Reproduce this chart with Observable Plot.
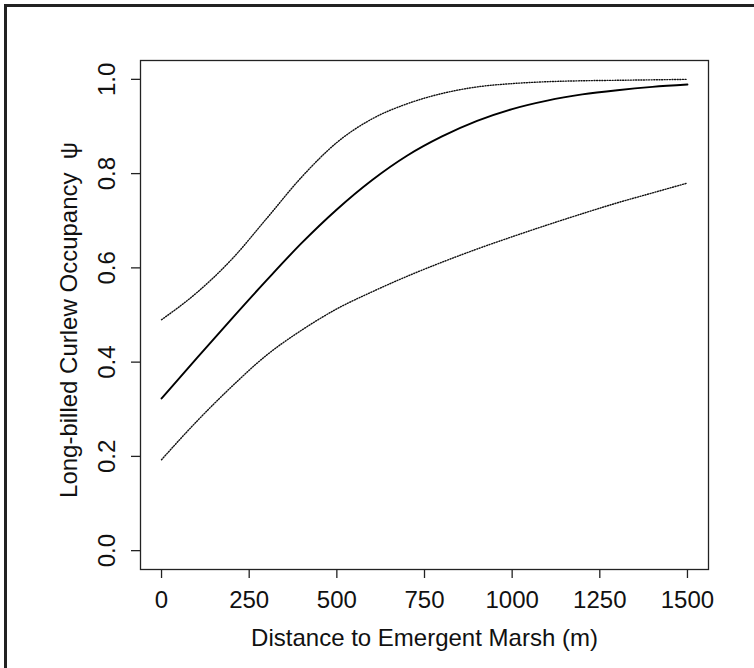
<!DOCTYPE html>
<html>
<head>
<meta charset="utf-8">
<script src="https://cdn.jsdelivr.net/npm/d3@7"></script>
<script src="https://cdn.jsdelivr.net/npm/@observablehq/plot@0.6"></script>
<style>
  html, body { margin: 0; padding: 0; background: #fff; overflow: hidden; }
  #wrap { position: relative; width: 754px; height: 668px; overflow: hidden; }
  #wrap svg { position: absolute; left: 0; top: 0; }
  #border { position: absolute; left: 4px; top: 4px; width: 760px; height: 680px;
            border: 3px solid #222; pointer-events: none; z-index: 2; }
</style>
</head>
<body>
<div id="wrap"><div id="border"></div></div>
<script>
// Distance to emergent marsh (m)
const distance = [0, 100, 200, 300, 400, 500, 600, 700, 800, 900, 1000, 1100, 1200, 1300, 1400, 1500];
// Estimated occupancy (solid line)
const psiEstimate = [0.323, 0.408, 0.492, 0.574, 0.653, 0.724, 0.786, 0.838, 0.879, 0.912, 0.937, 0.955, 0.968, 0.977, 0.984, 0.989];
// Upper confidence bound (dotted)
const psiUpper = [0.490, 0.547, 0.618, 0.705, 0.793, 0.866, 0.916, 0.948, 0.970, 0.984, 0.991, 0.995, 0.997, 0.998, 0.999, 1.000];
// Lower confidence bound (dotted)
const psiLower = [0.193, 0.274, 0.348, 0.415, 0.468, 0.513, 0.549, 0.582, 0.612, 0.640, 0.666, 0.691, 0.715, 0.738, 0.759, 0.780];

const xTicks = [0, 250, 500, 750, 1000, 1250, 1500];
const yTicks = [0, 0.2, 0.4, 0.6, 0.8, 1.0];
const xTitle = "Distance to Emergent Marsh (m)";
const yTitle = "Long-billed Curlew Occupancy  \u03C8";

const est = distance.map((d, i) => ({d, v: psiEstimate[i]}));
const up = distance.map((d, i) => ({d, v: psiUpper[i]}));
const lo = distance.map((d, i) => ({d, v: psiLower[i]}));

const FS = 24;
const chart = Plot.plot({
  width: 754,
  height: 668,
  marginLeft: 140,
  marginRight: 46,
  marginTop: 60,
  marginBottom: 99,
  style: {fontFamily: "'Liberation Sans', Arial, Helvetica, sans-serif", fontSize: FS + "px", color: "#111", background: "transparent"},
  x: {domain: [-60, 1560], axis: null},
  y: {domain: [-0.04, 1.04], axis: null},
  marks: [
    Plot.frame({stroke: "#222", strokeWidth: 1.3}),
    Plot.axisX({ticks: xTicks, tickSize: 9, tickFormat: () => "", label: null, stroke: "#222", strokeWidth: 1.3}),
    Plot.axisY({ticks: yTicks, tickSize: 9, tickFormat: () => "", label: null, stroke: "#222", strokeWidth: 1.3}),
    Plot.text(xTicks, {x: d => d, frameAnchor: "bottom", dy: 31, textAnchor: "middle", lineAnchor: "middle", text: d => String(d), fontSize: FS, fill: "#111"}),
    Plot.text(yTicks, {y: d => d, frameAnchor: "left", dx: -33, textAnchor: "middle", lineAnchor: "middle", rotate: -90, text: d => d.toFixed(1), fontSize: FS, fill: "#111"}),
    Plot.text([xTitle], {frameAnchor: "bottom", dy: 69, textAnchor: "middle", lineAnchor: "middle", text: d => d, fontSize: FS, fill: "#111"}),
    Plot.text([yTitle], {frameAnchor: "left", dx: -71, dy: 5, textAnchor: "middle", lineAnchor: "middle", rotate: -90, text: d => d, fontSize: FS, fill: "#111"}),
    Plot.line(up, {x: "d", y: "v", curve: "monotone-x", stroke: "#111", strokeWidth: 1.4, strokeDasharray: "1,1.6"}),
    Plot.line(lo, {x: "d", y: "v", curve: "monotone-x", stroke: "#111", strokeWidth: 1.4, strokeDasharray: "1,1.6"}),
    Plot.line(est, {x: "d", y: "v", curve: "monotone-x", stroke: "#000", strokeWidth: 1.9})
  ]
});
document.getElementById("wrap").prepend(chart);
</script>
</body>
</html>
